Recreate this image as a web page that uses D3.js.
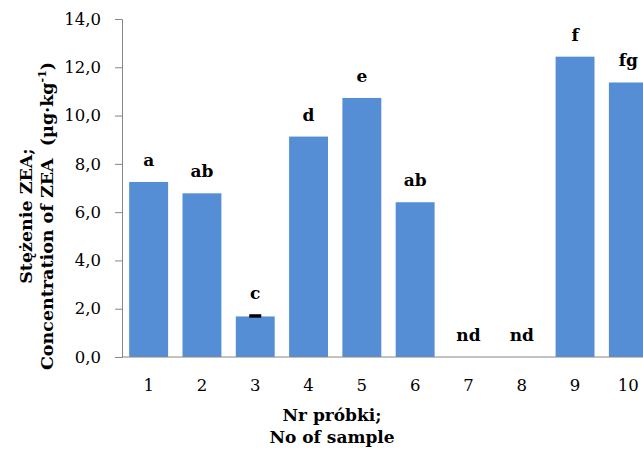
<!DOCTYPE html>
<html>
<head>
<meta charset="utf-8">
<script src="https://cdn.jsdelivr.net/npm/d3@7"></script>
<style>
  body { margin: 0; background: #fff; }
  svg { display: block; }
  text { font-family: "DejaVu Serif", "Liberation Serif", serif; fill: #000; }
</style>
</head>
<body>
<svg width="643" height="450"></svg>
<script>
// Sample numbers and ZEA concentration (µg/kg)
const samples = ["1", "2", "3", "4", "5", "6", "7", "8", "9", "10"];
const values = [7.25, 6.78, 1.68, 9.13, 10.73, 6.41, 0, 0, 12.44, 11.37];
const errors = [0, 0, 0.05, 0, 0, 0, 0, 0, 0, 0];
const groups = ["a", "ab", "c", "d", "e", "ab", "nd", "nd", "f", "fg"];
const yTicks = [0, 2, 4, 6, 8, 10, 12, 14];

const svg = d3.select("svg");

// plot area (the right side is cut off like in the original)
const plotLeft = 122, plotRight = 655, plotTop = 19, plotBottom = 357;

const x = d3.scaleBand()
    .domain(samples)
    .range([plotLeft, plotRight])
    .paddingInner(0.27)
    .paddingOuter(0.135);

const y = d3.scaleLinear()
    .domain([0, 14])
    .range([plotBottom, plotTop]);

const fmt = d => d3.format(".1f")(d).replace(".", ",");

// y axis
const yAxis = svg.append("g")
    .attr("transform", `translate(${plotLeft},0)`)
    .call(d3.axisLeft(y).tickValues(yTicks).tickFormat(fmt).tickSizeOuter(0).tickSize(7).tickPadding(14));
yAxis.select(".domain").attr("stroke", "#868686");
yAxis.selectAll(".tick line").attr("stroke", "#868686");
yAxis.selectAll(".tick text")
    .style("font-size", "16.5px")
    .style("font-family", "DejaVu Serif");

// bars
svg.append("g")
    .selectAll("rect")
    .data(values)
    .join("rect")
    .attr("x", (d, i) => x(samples[i]))
    .attr("y", d => y(d))
    .attr("width", x.bandwidth())
    .attr("height", d => y(0) - y(d))
    .attr("fill", "#558ed5");

// error bars (only sample 3 has a visible one)
svg.append("g")
    .selectAll("rect")
    .data(errors.map((e, i) => ({e, i})).filter(d => d.e > 0))
    .join("rect")
    .attr("x", d => x(samples[d.i]) + x.bandwidth() / 2 - 6)
    .attr("y", d => y(values[d.i] + d.e) - 1)
    .attr("width", 12)
    .attr("height", d => y(values[d.i] - d.e) - y(values[d.i] + d.e) + 1)
    .attr("fill", "#000");

// x axis line
svg.append("line")
    .attr("x1", plotLeft).attr("x2", 643)
    .attr("y1", plotBottom).attr("y2", plotBottom)
    .attr("stroke", "#868686");

// x tick labels
svg.append("g")
    .selectAll("text")
    .data(samples)
    .join("text")
    .attr("x", d => x(d) + x.bandwidth() / 2)
    .attr("y", 391)
    .attr("text-anchor", "middle")
    .style("font-size", "16.5px")
    .text(d => d);

// significance letters
svg.append("g")
    .selectAll("text")
    .data(groups)
    .join("text")
    .attr("x", (d, i) => x(samples[i]) + x.bandwidth() / 2)
    .attr("y", (d, i) => y(values[i] + errors[i]) - 16)
    .attr("text-anchor", "middle")
    .style("font-size", "17px")
    .style("font-weight", "bold")
    .text(d => d);

// axis titles
const xTitle = svg.append("text")
    .attr("text-anchor", "middle")
    .style("font-size", "17px")
    .style("font-weight", "bold");
xTitle.append("tspan").attr("x", 332).attr("y", 421).text("Nr próbki;");
xTitle.append("tspan").attr("x", 332).attr("y", 443).text("No of sample");

const yTitle = svg.append("text")
    .attr("transform", "translate(0,216) rotate(-90)")
    .attr("text-anchor", "middle")
    .style("font-size", "17.5px")
    .style("font-weight", "bold")
    .style("white-space", "pre");
yTitle.append("tspan").attr("x", 0).attr("y", 32).text("Stężenie ZEA;");
const l2 = yTitle.append("tspan").attr("x", 0).attr("y", 53);
l2.append("tspan").text("Concentration of ZEA  (µg·kg");
l2.append("tspan").attr("dy", -7).style("font-size", "11px").text("-1");
l2.append("tspan").attr("dy", 7).text(")");
</script>
</body>
</html>
